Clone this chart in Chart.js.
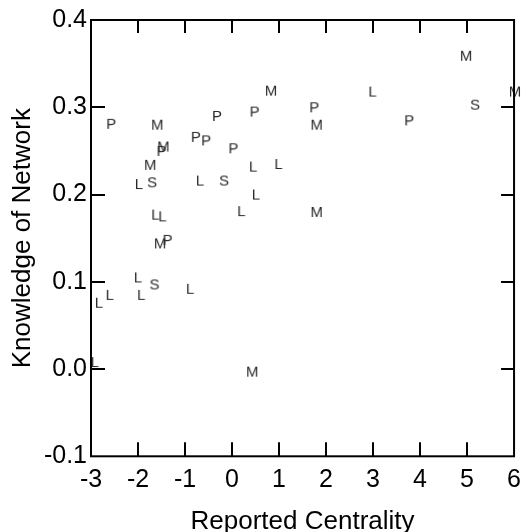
<!DOCTYPE html>
<html>
<head>
<meta charset="utf-8">
<script src="https://cdn.jsdelivr.net/npm/chart.js@4"></script>
<style>
  html, body { margin: 0; padding: 0; background: #fff; }
  #wrap { width: 530px; height: 532px; }
</style>
</head>
<body>
<div id="wrap"><canvas id="chart" width="530" height="532"></canvas></div>
<script>
// ---- data: [Reported Centrality, Knowledge of Network] ----
const lPoints = [
  [-1.98, 0.212], [-0.68, 0.216], [-1.63, 0.177], [-1.48, 0.175],
  [-2.00, 0.105], [-1.93, 0.085], [-0.89, 0.092], [-2.60, 0.085],
  [-2.83, 0.076], [-2.92, 0.008], [0.45, 0.232], [0.99, 0.235],
  [0.51, 0.200], [0.20, 0.181], [2.99, 0.318]
];
const sPoints = [[-1.70, 0.214], [-0.17, 0.216], [-1.65, 0.097], [5.17, 0.303]];
const mPoints = [
  [-1.59, 0.280], [-1.46, 0.255], [-1.74, 0.234], [-1.53, 0.144],
  [0.83, 0.319], [1.80, 0.280], [1.80, 0.180], [0.43, -0.003],
  [4.98, 0.359], [6.02, 0.318]
];
const pPoints = [
  [-2.57, 0.281], [-1.50, 0.250], [-0.32, 0.290], [-0.77, 0.266],
  [-0.55, 0.262], [0.03, 0.253], [-1.37, 0.148], [0.48, 0.295],
  [1.75, 0.300], [3.77, 0.285]
];
const xTicks = [-3, -2, -1, 0, 1, 2, 3, 4, 5, 6];
const yTicks = [-0.1, 0, 0.1, 0.2, 0.3, 0.4];

const FONT = "'Liberation Sans', Arial, Helvetica, sans-serif";

// a letter drawn on a small canvas, used as the point style
function letterMark(ch) {
  const c = document.createElement("canvas");
  c.width = 18; c.height = 18;
  const g = c.getContext("2d");
  g.fillStyle = "#2a2a2a";
  g.font = "15px " + FONT;
  g.textAlign = "center";
  g.textBaseline = "alphabetic";
  g.fillText(ch, 9, 9 + 5.4);
  return c;
}

const toXY = arr => arr.map(p => ({ x: p[0], y: p[1] }));

function letterSet(ch, pts) {
  return {
    label: ch,
    data: toXY(pts),
    pointStyle: letterMark(ch),
    pointRadius: 8,
    pointHoverRadius: 8,
    clip: false
  };
}

// frame with inward ticks on all four sides
const framePlugin = {
  id: "frame",
  afterDraw(chart) {
    const { ctx, chartArea: a, scales: { x, y } } = chart;
    ctx.save();
    ctx.strokeStyle = "#000";
    ctx.lineWidth = 2;
    ctx.strokeRect(a.left, a.top, a.right - a.left, a.bottom - a.top);
    ctx.beginPath();
    xTicks.slice(1, -1).forEach(v => {
      const px = Math.round(x.getPixelForValue(v));
      ctx.moveTo(px, a.bottom); ctx.lineTo(px, a.bottom - 14);
      ctx.moveTo(px, a.top); ctx.lineTo(px, a.top + 13);
    });
    yTicks.slice(1, -1).forEach(v => {
      const py = Math.round(y.getPixelForValue(v));
      ctx.moveTo(a.left, py); ctx.lineTo(a.left + 14, py);
      ctx.moveTo(a.right, py); ctx.lineTo(a.right - 13, py);
    });
    ctx.stroke();
    ctx.restore();
  }
};

new Chart(document.getElementById("chart"), {
  type: "scatter",
  data: {
    datasets: [
      letterSet("L", lPoints),
      letterSet("S", sPoints),
      letterSet("M", mPoints),
      letterSet("P", pPoints)
    ]
  },
  options: {
    responsive: false,
    animation: false,
    layout: { padding: { top: 20, right: 6, left: 0, bottom: 0 } },
    plugins: { legend: { display: false }, tooltip: { enabled: false } },
    scales: {
      x: {
        type: "linear",
        min: -3, max: 6,
        afterFit: s => { s.height = 75.7; },
        afterBuildTicks: s => { s.ticks = xTicks.map(v => ({ value: v })); },
        grid: { display: false, drawTicks: false },
        border: { display: false },
        ticks: {
          color: "#000",
          padding: 9,
          maxRotation: 0,
          font: { family: FONT, size: 25 },
          callback: v => String(v)
        },
        title: {
          display: true,
          text: "Reported Centrality",
          color: "#000",
          padding: { top: 0, bottom: 0 },
          font: { family: FONT, size: 26, lineHeight: 0.8 }
        }
      },
      y: {
        type: "linear",
        min: -0.1, max: 0.4,
        afterFit: s => { s.width = 91; },
        afterBuildTicks: s => { s.ticks = yTicks.map(v => ({ value: v })); },
        grid: { display: false, drawTicks: false },
        border: { display: false },
        ticks: {
          color: "#000",
          padding: 4,
          font: { family: FONT, size: 25 },
          callback: v => v.toFixed(1)
        },
        title: {
          display: true,
          text: "Knowledge of Network",
          color: "#000",
          padding: { top: 10, bottom: 0 },
          font: { family: FONT, size: 26, lineHeight: 1 }
        }
      }
    }
  },
  plugins: [framePlugin]
});
</script>
</body>
</html>
